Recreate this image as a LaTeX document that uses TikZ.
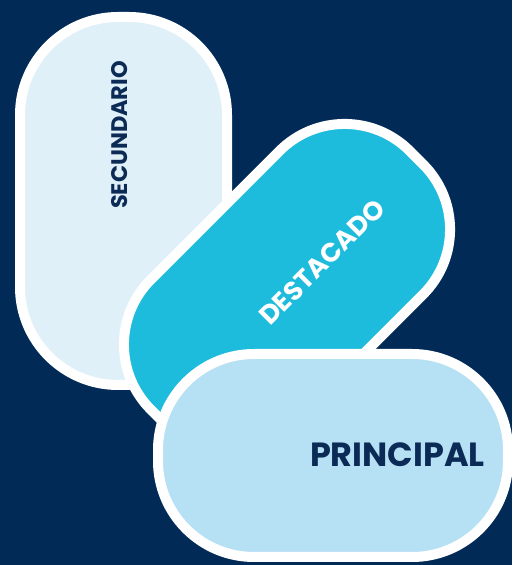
\documentclass[tikz,border=0pt]{standalone}
\usepackage{fontspec}
\setmainfont{Poppins}
\usetikzlibrary{shadows}
\definecolor{bgnavy}{HTML}{022A57}
\definecolor{palefill}{HTML}{DFF0F8}
\definecolor{cyanfill}{HTML}{1DBBDC}
\definecolor{lightfill}{HTML}{B6E0F3}
\definecolor{navytext}{HTML}{0B2A55}
\tikzset{
  pill/.style={draw=white, line width=10pt, inner sep=0pt,
    drop shadow={opacity=0.3, shadow xshift=2pt, shadow yshift=-3pt}},
  lbl/.style={font=\bfseries, inner sep=0pt}
}
\begin{document}
\begin{tikzpicture}[x=1pt,y=1pt]
\useasboundingbox (0,0) rectangle (512,565);
\fill[bgnavy] (0,0) rectangle (512,565);
\node[pill, fill=palefill, rounded corners=98pt, minimum width=207pt, minimum height=368pt] (sec) at (123.5,364) {};
\node[lbl, text=navytext, font=\bfseries\fontsize{22.5}{22.5}\selectfont, rotate=90] (sect) at (120,430) {SECUNDARIO};
\node[pill, fill=cyanfill, rounded corners=92pt, minimum width=366pt, minimum height=203pt, rotate=45] (des) at (287,278) {};
\node[lbl, text=white, font=\bfseries\fontsize{26.5}{26.5}\selectfont, rotate=45] (dest) at (322,303) {DESTACADO};
\node[pill, fill=lightfill, rounded corners=96pt, minimum width=350pt, minimum height=203pt] (pri) at (333,109.5) {};
\node[lbl, text=navytext, font=\bfseries\fontsize{33.5}{33.5}\selectfont, anchor=east] (prit) at (485,110) {PRINCIPAL};
\end{tikzpicture}
\end{document}
